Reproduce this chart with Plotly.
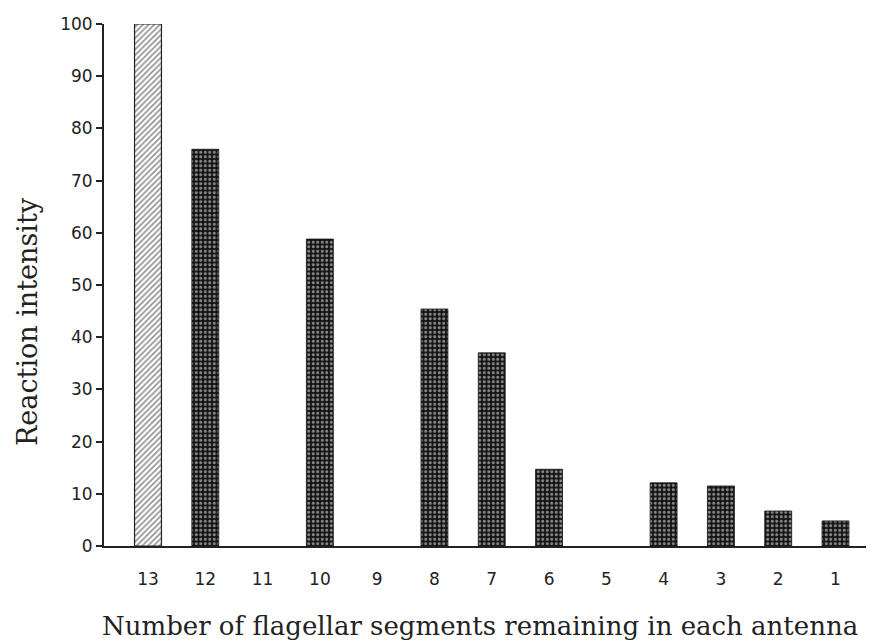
import plotly.graph_objects as go

segments = ["13", "12", "11", "10", "9", "8", "7", "6", "5", "4", "3", "2", "1"]
intensity = [100, 76, 0, 58.8, 0, 45.4, 37, 14.7, 0, 12.1, 11.5, 6.7, 4.8]
y_ticks = [0, 10, 20, 30, 40, 50, 60, 70, 80, 90, 100]

xpos = list(range(len(segments)))
rest_x = xpos[1:]
rest_y = intensity[1:]
rest_lw = [0.8 if v > 0 else 0 for v in rest_y]

fig = go.Figure()

# first bar: diagonal hatching
fig.add_trace(go.Bar(
    x=xpos[:1], y=intensity[:1], width=0.47,
    marker=dict(color="white",
                line=dict(color="#222", width=1.2),
                pattern=dict(shape="/", fgcolor="#222", bgcolor="white",
                             size=4, solidity=0.4)),
    showlegend=False,
))
# remaining bars: dark fill with white dots
fig.add_trace(go.Bar(
    x=rest_x, y=rest_y, width=0.47,
    marker=dict(color="#111",
                line=dict(color="#111", width=rest_lw),
                pattern=dict(shape=".", fgcolor="white", bgcolor="#151515",
                             size=4.5, solidity=0.34)),
    showlegend=False,
))

fig.update_layout(
    width=866, height=633,
    margin=dict(l=96, r=0, t=16, b=95),
    plot_bgcolor="white", paper_bgcolor="white",
    font=dict(family="DejaVu Sans", color="#222"),
    xaxis=dict(
        range=[-0.768, 12.672],
        tickmode="array", tickvals=xpos, ticktext=segments,
        ticks="", showgrid=False, zeroline=False,
        showline=True, linecolor="#222", linewidth=2,
        tickfont=dict(size=17, family="DejaVu Sans", color="#222"),
        ticklabelstandoff=17,
    ),
    yaxis=dict(
        range=[0, 100],
        tickmode="array", tickvals=y_ticks,
        ticks="outside", ticklen=6, tickcolor="#222", tickwidth=1.5,
        showgrid=False, zeroline=False,
        showline=True, linecolor="#222", linewidth=1.8,
        tickfont=dict(size=17, family="DejaVu Sans", color="#222"),
    ),
    annotations=[
        dict(text="Reaction intensity", xref="paper", yref="paper",
             x=0, y=0.5, xshift=-77, yshift=-37, textangle=-90,
             xanchor="center", yanchor="middle",
             showarrow=False,
             font=dict(family="DejaVu Serif", size=27, color="#222")),
        dict(text="Number of flagellar segments remaining in each antenna",
             xref="paper", yref="paper", x=0.5, y=0, yshift=-80,
             xshift=-9, showarrow=False, xanchor="center", yanchor="middle",
             font=dict(family="DejaVu Serif", size=26, color="#222")),
    ],
)

fig.write_html("out.html")
